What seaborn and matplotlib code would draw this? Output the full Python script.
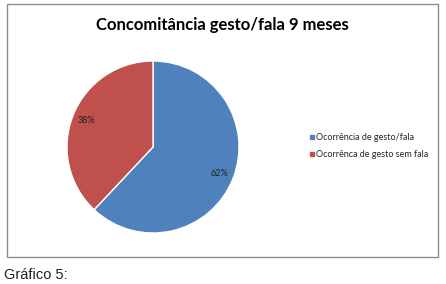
import matplotlib
matplotlib.use("Agg")
import matplotlib.pyplot as plt
from matplotlib.lines import Line2D
from matplotlib.patches import Rectangle
import seaborn as sns

# Data
labels = ["Ocorrência de gesto/fala", "Ocorrênca de gesto sem fala"]
values = [62, 38]
colors = ["#4F81BD", "#C0504D"]
title = "Concomitância gesto/fala 9 meses"
caption = "Gráfico 5:"

sns.set_theme(style="white")
plt.rcParams["font.family"] = ["Lato", "DejaVu Sans"]

W, H = 446, 284
fig = plt.figure(figsize=(W / 100, H / 100), dpi=100)
fig.patch.set_facecolor("white")

# chart frame
fig.add_artist(Rectangle((7 / W, 1 - 257 / H), 431 / W, 253 / H,
                         transform=fig.transFigure, fill=False,
                         edgecolor="#8c8c8c", linewidth=1))

# pie axes
cx, cy, r = 153, 147, 86
ax = fig.add_axes([(cx - r) / W, 1 - (cy + r) / H, 2 * r / W, 2 * r / H])
wedges, texts, autotexts = ax.pie(
    values, colors=colors, startangle=90, counterclock=False,
    autopct="%1.0f%%", pctdistance=0.83,
    wedgeprops=dict(edgecolor="white", linewidth=1),
    textprops=dict(fontsize=6.5, color="#222222"))
ax.set_xlim(-1, 1)
ax.set_ylim(-1, 1)
ax.axis("off")

fig.text(222 / W, 1 - 25 / H, title, ha="center", va="center",
         fontsize=12, fontweight="bold", color="black")

handles = [Line2D([], [], marker="s", linestyle="", color=c, markersize=3.5)
           for c in colors]
fig.legend(handles, labels, loc="center left", bbox_to_anchor=(300 / W, 1 - 146 / H),
           frameon=False, fontsize=6.5, handletextpad=0.1, labelspacing=0.9,
           handlelength=0.8)

fig.text(4 / W, 1 - 275 / H, caption, ha="left", va="center",
         fontsize=10.5, family=["Liberation Sans", "DejaVu Sans"], color="#222222")

fig.savefig("out.png", dpi=100)
